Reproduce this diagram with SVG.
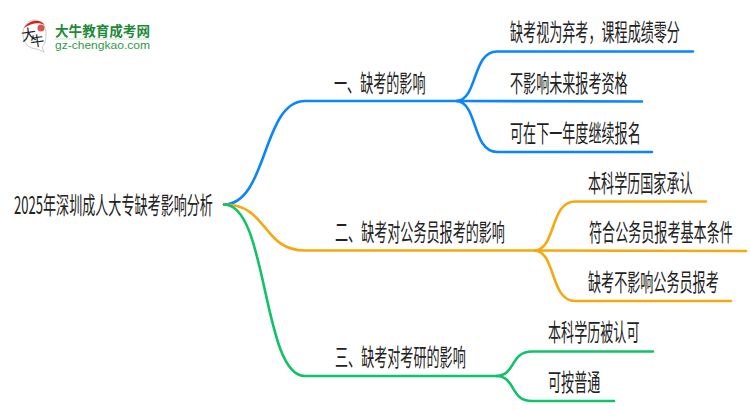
<svg xmlns="http://www.w3.org/2000/svg" width="750" height="410" viewBox="0 0 750 410">
<style>
text{font-family:"Noto Sans CJK SC","Liberation Sans",sans-serif;fill:#222;font-size:24px}
.c{fill:none;stroke-width:2.6;stroke-linecap:round}
.b{stroke:#0a84ff}.o{stroke:#f5a80f}.g{stroke:#12c268}
</style>
<rect width="750" height="410" fill="#fff"/>
<g id="logo">
<path d="M34 20C27 20 23 27 23 34C23 43 29 49 37 49L44 52L42 47C46 43 46 38 46 32C45 25 41 20 34 20Z" fill="#fff" stroke="#ccc" stroke-width="1"/>
<path d="M24 28C28 20 40 18 45 25C39 22 31 23 24 28Z" fill="#c8281e"/>
<circle cx="41" cy="28" r="3.500" fill="#d9534f"/>
<text transform="translate(22 41) rotate(-8)" style="font-size:15px;fill:#222">大</text>
<text transform="translate(31 47) rotate(-8)" style="font-size:14px;fill:#222">牛</text>
<text transform="translate(55 35.500) scale(.97 1)" style="font-size:14px;font-weight:700;fill:#1f8a3a">大牛教育成考网</text>
<rect x="55" y="38.500" width="95" height="1" fill="#cfe3d2"/>
<text x="55" y="49" textLength="95" lengthAdjust="spacingAndGlyphs" style="font-size:11px;fill:#2e9a4a;font-family:'Liberation Sans',sans-serif">gz-chengkao.com</text>
</g>
<g id="connectors">
<path class="c b" d="M224 204.500C268 204 262 101 305 101H457"/>
<path class="c b" d="M457 101C478 99 472 51.500 497 51.500H693"/>
<path class="c b" d="M457 101L642 101.500"/>
<path class="c b" d="M457 101C478 103 472 152 497 152H652"/>
<path class="c o" d="M224 204.500C268 204 262 250.500 305 250.500H535"/>
<path class="c o" d="M535 250.500C556 249 550 201.500 575 201.500H706"/>
<path class="c o" d="M535 250.500L746 251"/>
<path class="c o" d="M535 250.500C556 252 550 301 575 301H731"/>
<path class="c g" d="M224 204.500C268 204 262 376 305 376H497"/>
<path class="c g" d="M497 376C516 375 510 351.500 532 351.500H653"/>
<path class="c g" d="M497 376C516 377 510 401 532 401H614"/>
</g>
<g id="root"><text transform="translate(14 214) scale(.545 1)">2025年深圳成人大专缺考影响分析</text></g>
<g id="n1"><text transform="translate(334 92) scale(.545 1)">一、缺考的影响</text></g>
<g id="n1a"><text transform="translate(510 41) scale(.545 1)">缺考视为弃考，课程成绩零分</text></g>
<g id="n1b"><text transform="translate(510 92) scale(.545 1)">不影响未来报考资格</text></g>
<g id="n1c"><text transform="translate(510 142) scale(.545 1)">可在下一年度继续报名</text></g>
<g id="n2"><text transform="translate(335 241) scale(.545 1)">二、缺考对公务员报考的影响</text></g>
<g id="n2a"><text transform="translate(588 192) scale(.545 1)">本科学历国家承认</text></g>
<g id="n2b"><text transform="translate(589 241) scale(.545 1)">符合公务员报考基本条件</text></g>
<g id="n2c"><text transform="translate(588 291) scale(.545 1)">缺考不影响公务员报考</text></g>
<g id="n3"><text transform="translate(335 366) scale(.545 1)">三、缺考对考研的影响</text></g>
<g id="n3a"><text transform="translate(548 341) scale(.545 1)">本科学历被认可</text></g>
<g id="n3b"><text transform="translate(548 391) scale(.545 1)">可按普通</text></g>
</svg>
